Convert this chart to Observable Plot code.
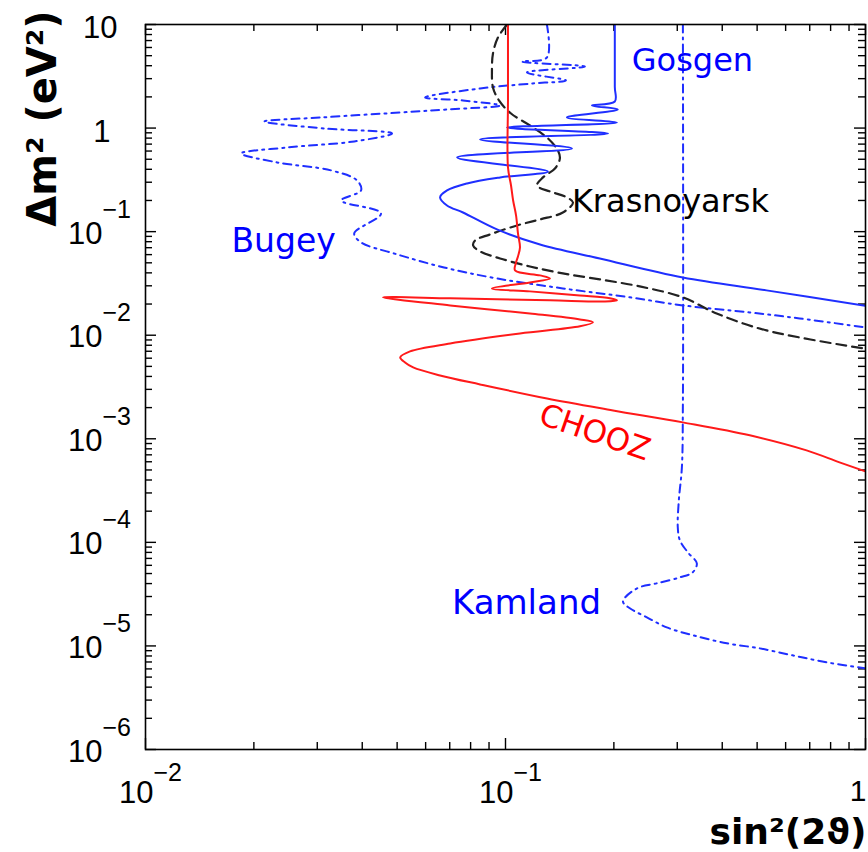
<!DOCTYPE html>
<html><head><meta charset="utf-8">
<script src="https://cdn.jsdelivr.net/npm/d3@7"></script>
<script src="https://cdn.jsdelivr.net/npm/@observablehq/plot@0.6"></script>
<style>html,body{margin:0;padding:0;background:#fff}</style>
</head><body><div id="chart"></div>
<script>
// ---- data (sin^2(2θ), Δm^2) ----
const choozPts = [[0.1016,10],[0.1016,1.85],[0.1016,0.417],[0.1036,0.279],[0.105,0.2],[0.107,0.143],[0.1083,0.0961],[0.1097,0.0703],[0.1083,0.0576],[0.107,0.0505],[0.1063,0.0422],[0.1247,0.0378],[0.1329,0.0353],[0.1169,0.0323],[0.0917,0.0283],[0.1169,0.0265],[0.161,0.0242],[0.195,0.0227],[0.204,0.0217],[0.189,0.0212],[0.1329,0.0217],[0.0702,0.0227],[0.0457,0.0232],[0.0702,0.0194],[0.1169,0.0162],[0.161,0.0142],[0.175,0.0133],[0.161,0.0122],[0.1097,0.0104],[0.0702,0.00833],[0.0543,0.00698],[0.051,0.00611],[0.0526,0.00546],[0.0554,0.00489],[0.0658,0.00409],[0.085,0.00335],[0.1304,0.00245],[0.199,0.00188],[0.311,0.00144],[0.477,0.00108],[0.686,0.000773],[0.847,0.000592],[1.0,0.000484]];
const gosgenPts = [[0.2012,10],[0.2012,2.5],[0.2012,1.806],[0.1738,1.653],[0.2051,1.512],[0.1481,1.266],[0.2039,1.133],[0.101,1.013],[0.1925,0.887],[0.085,0.776],[0.1529,0.636],[0.0734,0.52],[0.1312,0.381],[0.0966,0.334],[0.0782,0.292],[0.0688,0.25],[0.0658,0.214],[0.0688,0.179],[0.0762,0.153],[0.0947,0.105],[0.1247,0.0752],[0.1828,0.0551],[0.311,0.0361],[0.531,0.0271],[1.0,0.0192]];
const krasPts = [[0.101,10],[0.0953,7.49],[0.0923,5.25],[0.0917,3.6],[0.0923,2.47],[0.0959,1.85],[0.1036,1.383],[0.1169,1.06],[0.1312,0.794],[0.1398,0.608],[0.1416,0.509],[0.1372,0.407],[0.1271,0.334],[0.1223,0.279],[0.1329,0.244],[0.1462,0.2187],[0.154,0.1913],[0.1443,0.153],[0.1247,0.1312],[0.1076,0.1148],[0.0906,0.094],[0.0823,0.0822],[0.0813,0.0736],[0.085,0.0644],[0.0966,0.0551],[0.1169,0.0461],[0.1443,0.0395],[0.1828,0.0346],[0.236,0.0296],[0.311,0.0232],[0.386,0.0162],[0.531,0.01112],[1.0,0.0074]];
const bugeyPts = [[0.1303,10],[0.1303,4.8],[0.1111,4.39],[0.1662,3.93],[0.1147,3.44],[0.1472,2.88],[0.1191,2.7],[0.085,2.41],[0.0598,1.974],[0.0762,1.846],[0.0966,1.653],[0.0688,1.512],[0.0513,1.415],[0.0308,1.266],[0.0214,1.158],[0.0314,0.991],[0.0484,0.887],[0.038,0.743],[0.0248,0.65],[0.01846,0.569],[0.0232,0.466],[0.0328,0.39],[0.0387,0.312],[0.0397,0.25],[0.035,0.2],[0.0451,0.1499],[0.038,0.0961],[0.0397,0.0787],[0.049,0.0616],[0.0675,0.0451],[0.0947,0.0353],[0.1443,0.0283],[0.2215,0.0232],[0.311,0.0194],[0.477,0.0166],[0.656,0.01453],[1.0,0.0119]];
const kamlandPts = [[0.311,10],[0.311,0.0022],[0.309,0.00053],[0.303,0.000254],[0.301,0.00014],[0.305,0.000105],[0.321,0.00008],[0.34,0.0000627],[0.331,0.0000513],[0.305,0.0000459],[0.263,0.0000402],[0.232,0.000036],[0.212,0.0000269],[0.2215,0.0000231],[0.247,0.0000189],[0.2805,0.0000151],[0.331,0.0000127],[0.412,0.0000106],[0.508,0.00000948],[0.627,0.00000811],[0.779,0.00000695],[1.0,0.00000608]];

// curve labels: name and anchor position in data units
const labelNames = ["Gosgen", "Krasnoyarsk", "Bugey", "CHOOZ", "Kamland"];
const labelX = [0.2243, 0.1529, 0.01732, 0.177, 0.071];
const labelY = [4.44, 0.1934, 0.0804, 0.00115, 0.0000261];

// tick labels
const xTickLabels = [{v: 0.01, base: "10", exp: "\u22122"}, {v: 0.1, base: "10", exp: "\u22121"}, {v: 1, base: "1", exp: ""}];
const yTickLabels = [{v: 10, base: "10", exp: ""}, {v: 1, base: "1", exp: ""}, {v: 0.1, base: "10", exp: "\u22121"}, {v: 0.01, base: "10", exp: "\u22122"}, {v: 0.001, base: "10", exp: "\u22123"}, {v: 1e-4, base: "10", exp: "\u22124"}, {v: 1e-5, base: "10", exp: "\u22125"}, {v: 1e-6, base: "10", exp: "\u22126"}];
const xTitle = "sin\u00b2(2\u03d1)";
const yTitle = "\u0394m\u00b2 (eV\u00b2)";

// ---- layout ----
const W = 868, H = 852, mL = 145, mR = 3, mT = 24, mB = 103;
const fw = W - mL - mR, fh = H - mT - mB;
const toObj = a => a.map(([x, y]) => ({x, y}));
const xMajor = xTickLabels.map(d => d.v);
const yMajor = yTickLabels.map(d => d.v);
const isMajor = (arr) => v => arr.some(m => Math.abs(m - v) / m < 1e-6);
const xMinor = d3.scaleLog().domain([0.01, 1]).ticks().filter(v => !isMajor(xMajor)(v));
const yMinor = d3.scaleLog().domain([1e-6, 10]).ticks().filter(v => !isMajor(yMajor)(v));

const blue = "#1f2fff", tickFont = "Liberation Sans, Arial, sans-serif", lblFont = "DejaVu Sans, sans-serif";
const tk = {stroke: "#000", strokeWidth: 1.4};
const lbl = (i, opts) => Plot.text([labelNames[i]], {x: () => labelX[i], y: () => labelY[i], text: d => d, fontFamily: lblFont, fontSize: 32, textAnchor: "start", lineAnchor: "middle", ...opts});

const chart = Plot.plot({
  width: W, height: H,
  marginLeft: mL, marginRight: mR, marginTop: mT, marginBottom: mB,
  x: {type: "log", domain: [0.01, 1], axis: null},
  y: {type: "log", domain: [1e-6, 10], axis: null},
  style: {background: "#fff", overflow: "visible"},
  marks: [
    // ticks (inward on all four sides)
    Plot.ruleX(xMajor, {x: d => d, insetTop: fh - 11, ...tk}),
    Plot.ruleX(xMajor, {x: d => d, insetBottom: fh - 11, ...tk}),
    Plot.ruleX(xMinor, {x: d => d, insetTop: fh - 7, ...tk}),
    Plot.ruleX(xMinor, {x: d => d, insetBottom: fh - 7, ...tk}),
    Plot.ruleY(yMajor, {y: d => d, insetRight: fw - 11, ...tk}),
    Plot.ruleY(yMajor, {y: d => d, insetLeft: fw - 11, ...tk}),
    Plot.ruleY(yMinor, {y: d => d, insetRight: fw - 7, ...tk}),
    Plot.ruleY(yMinor, {y: d => d, insetLeft: fw - 7, ...tk}),
    // curves
    Plot.line(toObj(kamlandPts), {x: "x", y: "y", stroke: blue, strokeWidth: 2, strokeDasharray: "8,5,2,5", curve: "catmull-rom", clip: true}),
    Plot.line(toObj(bugeyPts), {x: "x", y: "y", stroke: blue, strokeWidth: 2, strokeDasharray: "8,5,2,5", curve: "catmull-rom", clip: true}),
    Plot.line(toObj(krasPts), {x: "x", y: "y", stroke: "#222", strokeWidth: 2.2, strokeDasharray: "10,6", curve: "catmull-rom", clip: true}),
    Plot.line(toObj(gosgenPts), {x: "x", y: "y", stroke: blue, strokeWidth: 2, curve: "catmull-rom", clip: true}),
    Plot.line(toObj(choozPts), {x: "x", y: "y", stroke: "#ff1a1a", strokeWidth: 2, curve: "catmull-rom", clip: true}),
    Plot.frame({stroke: "#000", strokeWidth: 1.6}),
    // curve labels
    lbl(0, {fill: "#0000ff"}),
    lbl(1, {fill: "#000"}),
    lbl(2, {fill: "#0000ff", fontSize: 33}),
    lbl(3, {fill: "#ff0000", fontSize: 31, textAnchor: "middle", rotate: 19}),
    lbl(4, {fill: "#0000ff", fontSize: 34}),
    // y tick labels
    Plot.text(yTickLabels.filter(d => d.exp), {y: "v", text: "base", frameAnchor: "left", dx: -43, dy: 12, textAnchor: "end", lineAnchor: "bottom", fontFamily: tickFont, fontSize: 31, fill: "#000"}),
    Plot.text(yTickLabels.filter(d => d.exp), {y: "v", text: "exp", frameAnchor: "left", dx: -43, dy: -14, textAnchor: "start", lineAnchor: "bottom", fontFamily: tickFont, fontSize: 25, fill: "#000"}),
    Plot.text(yTickLabels.filter(d => d.base === "10" && !d.exp), {y: "v", text: "base", frameAnchor: "left", dx: -28, dy: 13, textAnchor: "end", lineAnchor: "bottom", fontFamily: tickFont, fontSize: 31, fill: "#000"}),
    Plot.text(yTickLabels.filter(d => d.base === "1"), {y: "v", text: "base", frameAnchor: "left", dx: -35, dy: 14, textAnchor: "end", lineAnchor: "bottom", fontFamily: tickFont, fontSize: 31, fill: "#000"}),
    // x tick labels
    Plot.text(xTickLabels.filter(d => d.exp), {x: "v", text: "base", frameAnchor: "bottom", dx: 8, dy: 53, textAnchor: "end", lineAnchor: "bottom", fontFamily: tickFont, fontSize: 31, fill: "#000"}),
    Plot.text(xTickLabels.filter(d => d.exp), {x: "v", text: "exp", frameAnchor: "bottom", dx: 8, dy: 31, textAnchor: "start", lineAnchor: "bottom", fontFamily: tickFont, fontSize: 25, fill: "#000"}),
    Plot.text(xTickLabels.filter(d => !d.exp), {x: "v", text: "base", frameAnchor: "bottom", dx: 1, dy: 51, textAnchor: "end", lineAnchor: "bottom", fontFamily: tickFont, fontSize: 30, fill: "#000"}),
    // axis titles
    Plot.text([xTitle], {text: d => d, frameAnchor: "bottom-right", dx: 1, dy: 94, textAnchor: "end", lineAnchor: "bottom", fontFamily: lblFont, fontWeight: "bold", fontSize: 36, fill: "#000"}),
    Plot.text([yTitle], {text: d => d, frameAnchor: "top-left", dx: -90, dy: 94, rotate: -90, textAnchor: "middle", lineAnchor: "bottom", fontFamily: lblFont, fontWeight: "bold", fontSize: 40, fill: "#000"})
  ]
});
document.getElementById("chart").appendChild(chart);
</script></body></html>
